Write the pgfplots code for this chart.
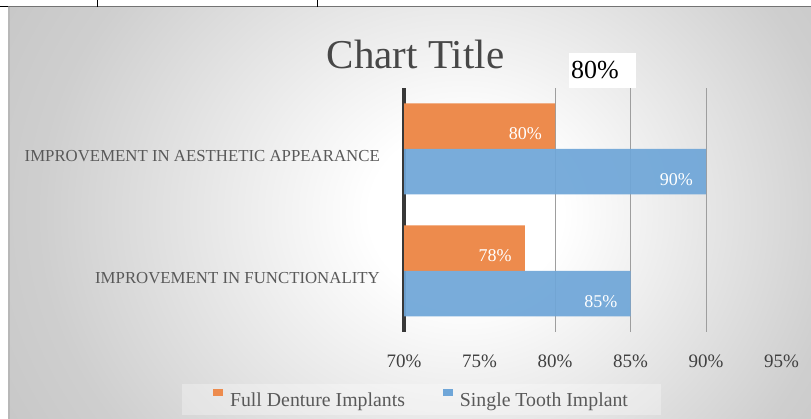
\documentclass[border=0pt]{standalone}
\usepackage{fontspec}
\setmainfont{Liberation Serif}
\usepackage{pgfplots}
\pgfplotsset{compat=1.18}
\definecolor{orangebar}{HTML}{ED8B4D}
\definecolor{bluebar}{HTML}{6FA6D8}
\definecolor{labgray}{HTML}{595959}
\definecolor{tickgray}{HTML}{404040}
\pgfdeclareradialshading{bgshade}{\pgfpoint{4bp}{0bp}}{color(0bp)=(white); color(6bp)=(white); color(25bp)=(black!19); color(35bp)=(black!24); color(50bp)=(black!27)}
\begin{document}
\begin{tikzpicture}
\path[use as bounding box] (0pt,0pt) rectangle (811pt,419pt);
\begin{scope}
\clip (8pt,0pt) rectangle (811pt,412pt);
\shade[shading=bgshade] (8pt,-150pt) rectangle (811pt,562pt);
\end{scope}
\draw[black!55, line width=1pt] (8pt,412pt) -- (811pt,412pt);
\draw[black!28, line width=1.5pt] (8.75pt,0pt) -- (8.75pt,412pt);
\draw[black, line width=1pt] (0pt,412pt) -- (8pt,412pt);
\draw[black, line width=1pt] (97pt,412pt) -- (97pt,419pt);
\draw[black, line width=1pt] (317pt,412pt) -- (317pt,419pt);
\node[anchor=base, inner sep=0pt, font=\fontsize{41}{45}\selectfont, text=black!72] at (415.5pt,350pt) {Chart Title};
\begin{axis}[
  at={(404pt,87pt)}, anchor=south west,
  scale only axis, width=377.5pt, height=244pt,
  xbar, xmin=70, xmax=95, ymin=-0.5, ymax=1.5,
  bar width=45.5pt,
  ytick={0,1},
  yticklabels={IMPROVEMENT IN FUNCTIONALITY, IMPROVEMENT IN AESTHETIC APPEARANCE},
  xtick={70,75,...,95},
  xticklabel={\pgfmathprintnumber{\tick}\%},
  /pgf/number format/assume math mode=true,
  major tick length=0pt,
  axis x line*=bottom, axis y line*=left,
  x axis line style={draw=none},
  y axis line style={line width=4pt, draw=black!78},
  extra x ticks={80,85,90},
  extra x tick style={grid=major, major grid style={black!38, line width=1pt}, xticklabel={}},
  xticklabel style={inner sep=0pt, yshift=-23pt, text=tickgray, font=\fontsize{19}{22}\selectfont},
  yticklabel style={inner sep=0pt, anchor=east, xshift=-24pt, yshift=-7pt, text=labgray, font=\fontsize{16.8}{19}\selectfont},
  point meta=x,
  nodes near coords={\pgfmathprintnumber{\pgfplotspointmeta}\%},
  nodes near coords style={anchor=east, inner sep=0pt, xshift=-13pt, yshift=-7.5pt, text=white, font=\fontsize{18}{20}\selectfont},
  legend style={at={(0.0464,-0.2766)}, anchor=center, draw=none, fill=white, fill opacity=0.3, text opacity=1,
    font=\fontsize{19.8}{22}\selectfont, text=labgray, inner xsep=31pt, inner ysep=5pt,
    /tikz/every odd column/.append style={column sep=5pt},
    /tikz/every even column/.append style={column sep=36pt}},
  legend columns=2,
  legend cell align=left,
]
\addplot[fill=orangebar, draw=none, bar shift=22.75pt,
  legend image code/.code={\fill[orangebar, fill opacity=1] (0pt,5pt) rectangle (10pt,12pt);}]
  coordinates {(80,1) (78,0)};
\addlegendentry{Full Denture Implants}
\addplot[fill=bluebar, draw=none, fill opacity=0.93, text opacity=1, bar shift=-22.75pt,
  legend image code/.code={\fill[bluebar, fill opacity=1] (0pt,5pt) rectangle (10pt,12pt);}]
  coordinates {(90,1) (85,0)};
\addlegendentry{Single Tooth Implant}
\end{axis}
\fill[white] (569pt,331pt) rectangle (636pt,366pt);
\node[anchor=base west, inner sep=0pt, font=\fontsize{26}{28}\selectfont] at (571pt,340pt) {80\%};
\end{tikzpicture}
\end{document}
